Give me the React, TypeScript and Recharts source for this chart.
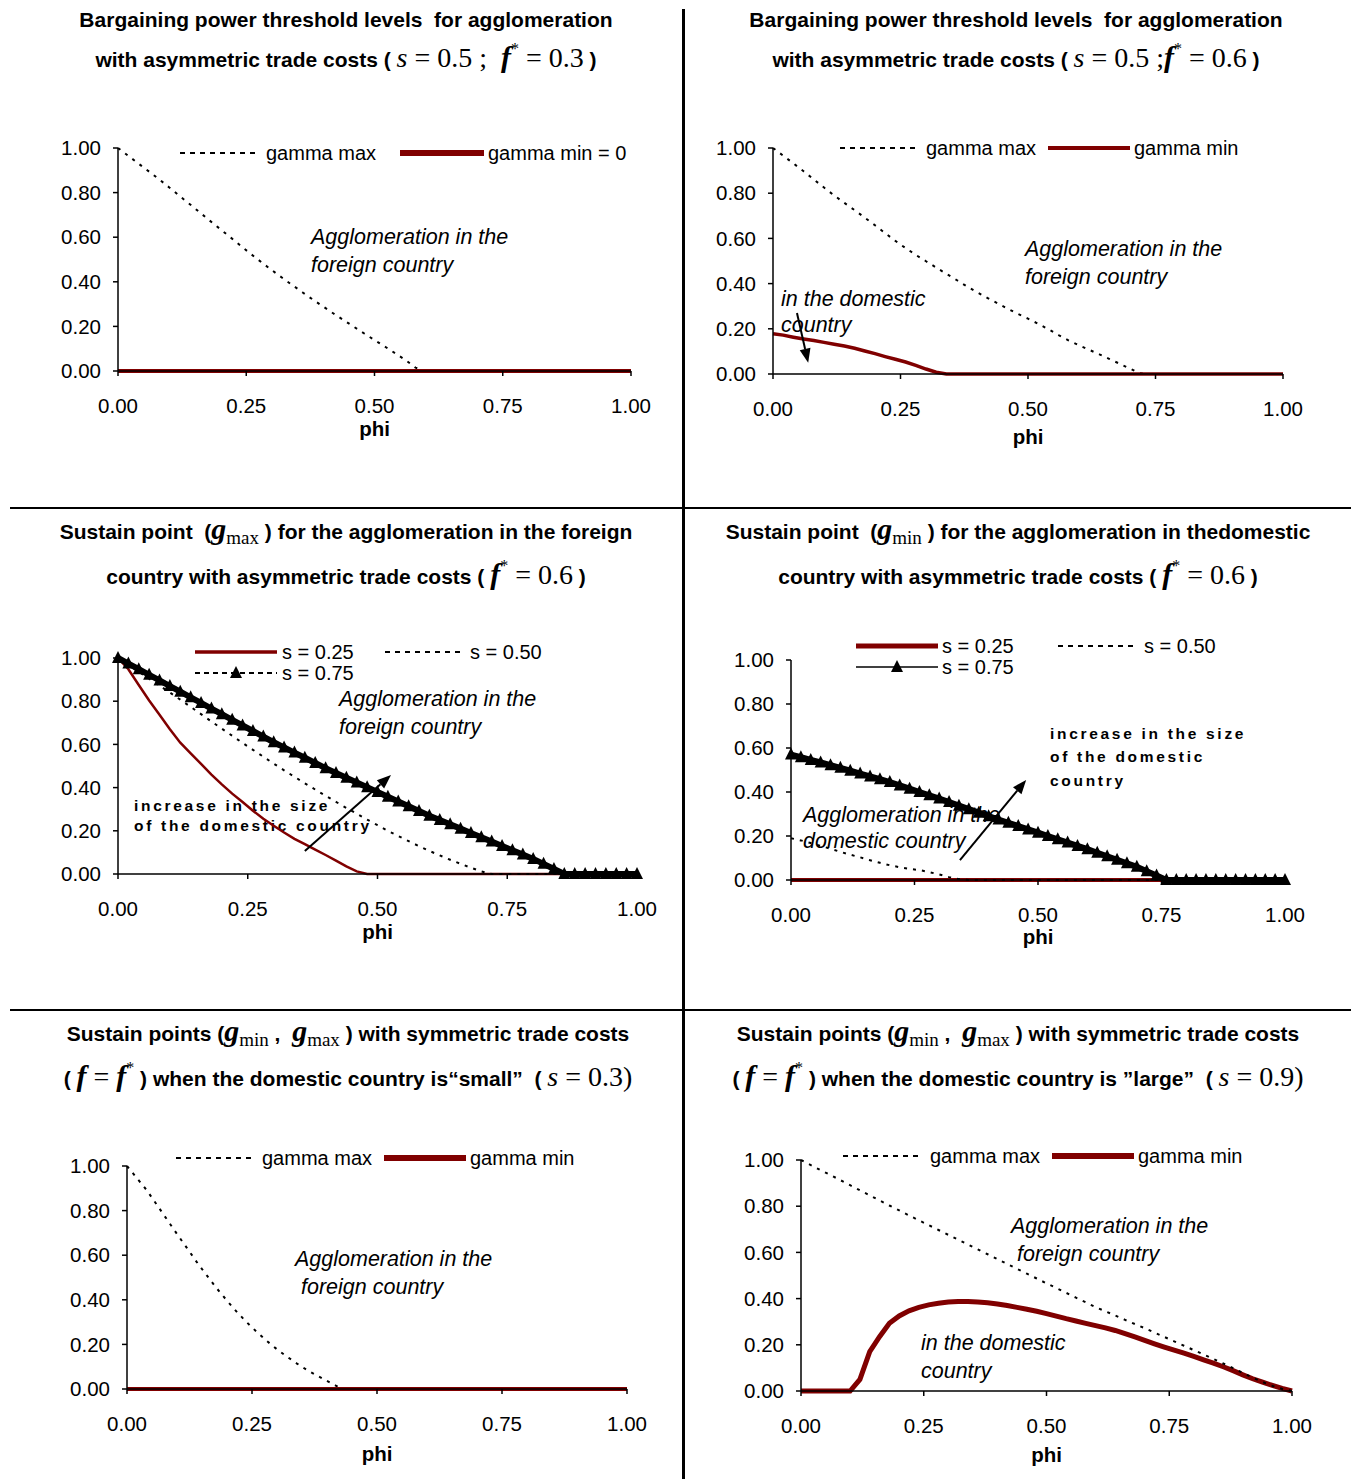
import React from 'react';
import { LineChart, Line, XAxis, YAxis, ReferenceLine } from 'recharts';

// shared x values (phi) and axis ticks
const PHI = [
  0, 0.02, 0.04, 0.06, 0.08, 0.1, 0.12, 0.14, 0.16, 0.18,
  0.2, 0.22, 0.24, 0.26, 0.28, 0.3, 0.32, 0.34, 0.36, 0.38,
  0.4, 0.42, 0.44, 0.46, 0.48, 0.5, 0.52, 0.54, 0.56, 0.58,
  0.6, 0.62, 0.64, 0.66, 0.68, 0.7, 0.72, 0.74, 0.76, 0.78,
  0.8, 0.82, 0.84, 0.86, 0.88, 0.9, 0.92, 0.94, 0.96, 0.98, 1,
];
const X_TICKS = [0, 0.25, 0.5, 0.75, 1];
const Y_TICKS = [0, 0.2, 0.4, 0.6, 0.8, 1];

// top left: s = 0.5, f* = 0.3
const TL_GAMMA_MAX = [
  1.0, 0.965, 0.93, 0.895, 0.86, 0.823, 0.785, 0.748, 0.71, 0.672,
  0.635, 0.598, 0.56, 0.523, 0.487, 0.452, 0.418, 0.385, 0.352, 0.32,
  0.289, 0.258, 0.228, 0.198, 0.168, 0.139, 0.11, 0.08, 0.05, 0.015,
  0, 0, 0, 0, 0, 0, 0, 0, 0, 0,
  0, 0, 0, 0, 0, 0, 0, 0, 0, 0, 0,
];
const TL_GAMMA_MIN = [
  0, 0, 0, 0, 0, 0, 0, 0, 0, 0,
  0, 0, 0, 0, 0, 0, 0, 0, 0, 0,
  0, 0, 0, 0, 0, 0, 0, 0, 0, 0,
  0, 0, 0, 0, 0, 0, 0, 0, 0, 0,
  0, 0, 0, 0, 0, 0, 0, 0, 0, 0, 0,
];

// top right: s = 0.5, f* = 0.6
const TR_GAMMA_MAX = [
  1.0, 0.966, 0.932, 0.897, 0.861, 0.825, 0.79, 0.757, 0.725, 0.692,
  0.658, 0.623, 0.589, 0.557, 0.527, 0.499, 0.471, 0.443, 0.416, 0.388,
  0.362, 0.337, 0.313, 0.289, 0.266, 0.245, 0.222, 0.198, 0.172, 0.148,
  0.127, 0.107, 0.087, 0.066, 0.045, 0.024, 0.003, 0, 0, 0,
  0, 0, 0, 0, 0, 0, 0, 0, 0, 0, 0,
];
const TR_GAMMA_MIN = [
  0.178, 0.172, 0.163, 0.155, 0.148, 0.14, 0.132, 0.124, 0.114, 0.102,
  0.09, 0.077, 0.065, 0.053, 0.038, 0.022, 0.008, 0, 0, 0,
  0, 0, 0, 0, 0, 0, 0, 0, 0, 0,
  0, 0, 0, 0, 0, 0, 0, 0, 0, 0,
  0, 0, 0, 0, 0, 0, 0, 0, 0, 0, 0,
];

// middle left: gamma max, f* = 0.6
const ML_S25 = [
  1.0, 0.948, 0.875, 0.803, 0.737, 0.67, 0.608, 0.558, 0.51, 0.46,
  0.415, 0.372, 0.333, 0.293, 0.256, 0.223, 0.192, 0.163, 0.138, 0.113,
  0.088, 0.062, 0.035, 0.012, 0, 0, 0, 0, 0, 0,
  0, 0, 0, 0, 0, 0, 0, 0, 0, 0,
  0, 0, 0, 0, 0, 0, 0, 0, 0, 0, 0,
];
const ML_S50 = [
  1.0, 0.968, 0.936, 0.904, 0.872, 0.84, 0.807, 0.774, 0.74, 0.706,
  0.673, 0.64, 0.607, 0.575, 0.543, 0.511, 0.48, 0.45, 0.42, 0.391,
  0.362, 0.334, 0.306, 0.279, 0.252, 0.226, 0.2, 0.176, 0.152, 0.129,
  0.107, 0.086, 0.066, 0.047, 0.029, 0.012, 0, 0, 0, 0,
  0, 0, 0, 0, 0, 0, 0, 0, 0, 0, 0,
];
const ML_S75 = [
  1.0, 0.974, 0.948, 0.922, 0.896, 0.87, 0.844, 0.818, 0.792, 0.766,
  0.74, 0.714, 0.688, 0.662, 0.636, 0.61, 0.586, 0.562, 0.538, 0.514,
  0.49, 0.468, 0.446, 0.424, 0.402, 0.38, 0.358, 0.336, 0.314, 0.292,
  0.27, 0.25, 0.23, 0.21, 0.19, 0.17, 0.15, 0.13, 0.11, 0.09,
  0.07, 0.047, 0.023, 0, 0, 0, 0, 0, 0, 0, 0,
];

// middle right: gamma min, f* = 0.6
const MR_S25 = [
  0, 0, 0, 0, 0, 0, 0, 0, 0, 0,
  0, 0, 0, 0, 0, 0, 0, 0, 0, 0,
  0, 0, 0, 0, 0, 0, 0, 0, 0, 0,
  0, 0, 0, 0, 0, 0, 0, 0, 0, 0,
  0, 0, 0, 0, 0, 0, 0, 0, 0, 0, 0,
];
const MR_S50 = [
  0.19, 0.18, 0.168, 0.155, 0.142, 0.128, 0.115, 0.103, 0.09, 0.078,
  0.067, 0.058, 0.051, 0.045, 0.036, 0.025, 0.013, 0.004, 0, 0,
  0, 0, 0, 0, 0, 0, 0, 0, 0, 0,
  0, 0, 0, 0, 0, 0, 0, 0, 0, 0,
  0, 0, 0, 0, 0, 0, 0, 0, 0, 0, 0,
];
const MR_S75 = [
  0.57, 0.558, 0.546, 0.534, 0.522, 0.51, 0.497, 0.484, 0.471, 0.458,
  0.445, 0.43, 0.415, 0.4, 0.385, 0.37, 0.354, 0.338, 0.322, 0.306,
  0.29, 0.275, 0.26, 0.245, 0.23, 0.215, 0.2, 0.185, 0.17, 0.155,
  0.14, 0.124, 0.108, 0.092, 0.076, 0.06, 0.04, 0.02, 0, 0,
  0, 0, 0, 0, 0, 0, 0, 0, 0, 0, 0,
];

// bottom left: symmetric, s = 0.3
const BL_GAMMA_MAX = [
  1.0, 0.945, 0.89, 0.825, 0.76, 0.695, 0.632, 0.568, 0.508, 0.45,
  0.396, 0.345, 0.298, 0.255, 0.215, 0.178, 0.145, 0.114, 0.085, 0.06,
  0.036, 0.012, 0, 0, 0, 0, 0, 0, 0, 0,
  0, 0, 0, 0, 0, 0, 0, 0, 0, 0,
  0, 0, 0, 0, 0, 0, 0, 0, 0, 0, 0,
];
const BL_GAMMA_MIN = [
  0, 0, 0, 0, 0, 0, 0, 0, 0, 0,
  0, 0, 0, 0, 0, 0, 0, 0, 0, 0,
  0, 0, 0, 0, 0, 0, 0, 0, 0, 0,
  0, 0, 0, 0, 0, 0, 0, 0, 0, 0,
  0, 0, 0, 0, 0, 0, 0, 0, 0, 0, 0,
];

// bottom right: symmetric, s = 0.9
const BR_GAMMA_MAX = [
  1.0, 0.978, 0.956, 0.935, 0.913, 0.891, 0.869, 0.847, 0.825, 0.803,
  0.782, 0.76, 0.739, 0.718, 0.697, 0.676, 0.655, 0.634, 0.613, 0.592,
  0.571, 0.55, 0.529, 0.508, 0.487, 0.466, 0.446, 0.425, 0.404, 0.384,
  0.363, 0.345, 0.327, 0.308, 0.29, 0.272, 0.253, 0.234, 0.215, 0.196,
  0.177, 0.158, 0.139, 0.119, 0.099, 0.078, 0.058, 0.039, 0.022, 0.009, 0,
];
const BR_GAMMA_MIN = [
  0, 0, 0, 0, 0, 0, 0.05, 0.17, 0.235, 0.293,
  0.325, 0.347, 0.362, 0.373, 0.38, 0.385, 0.387, 0.387, 0.385, 0.382,
  0.377, 0.37, 0.362, 0.354, 0.345, 0.335, 0.324, 0.313, 0.303, 0.293,
  0.283, 0.273, 0.262, 0.248, 0.234, 0.219, 0.204, 0.19, 0.177, 0.164,
  0.15, 0.135, 0.121, 0.105, 0.088, 0.07, 0.053, 0.038, 0.024, 0.011, 0,
];

const SANS = '"Liberation Sans", Arial, sans-serif';
const SERIF = '"Liberation Serif", "Times New Roman", serif';
const RED = '#800000';
const AXW = 80; // y axis width
const MT = 15;
const MR = 40;
const XAH = 90; // x axis height

type Kind = 'dot' | 'red' | 'triDash' | 'triSolid';
type Series = { key: string; values: number[]; kind: Kind; width?: number };
type LegendItem = { label: string; kind: Kind; width?: number; x: number; y: number; len: number; gap: number };
type Note = { text: string; x: number; y: number; spaced?: boolean };
type Arrow = { x1: number; y1: number; x2: number; y2: number };

const strokeOf = (kind: Kind, width = 3, legend = false) => {
  if (kind === 'dot') return { stroke: '#000', strokeWidth: 2, strokeDasharray: legend ? '5 5' : '3 6' };
  if (kind === 'red') return { stroke: RED, strokeWidth: width };
  if (!legend) return { stroke: '#000', strokeWidth: 6 };
  if (kind === 'triDash') return { stroke: '#000', strokeWidth: 2, strokeDasharray: '5 4' };
  return { stroke: '#000', strokeWidth: 1.5 };
};

const TriDot = (p: any) => {
  const { cx, cy, index } = p;
  if (cx == null || cy == null) return <g key={index} />;
  return <polygon key={index} points={`${cx},${cy - 7} ${cx - 6},${cy + 5} ${cx + 6},${cy + 5}`} fill="#000" />;
};

const ArrowShape = (p: any) => {
  const { x1, y1, x2, y2 } = p;
  const a = Math.atan2(y2 - y1, x2 - x1);
  const L = 14;
  const W = 5.5;
  const bx = x2 - L * Math.cos(a);
  const by = y2 - L * Math.sin(a);
  const px = -Math.sin(a) * W;
  const py = Math.cos(a) * W;
  return (
    <g>
      <line x1={x1} y1={y1} x2={bx} y2={by} stroke="#000" strokeWidth={2} />
      <polygon points={`${x2},${y2} ${bx + px},${by + py} ${bx - px},${by - py}`} fill="#000" />
    </g>
  );
};

const F = ({ star = true }: { star?: boolean }) => (
  <span style={{ fontFamily: SERIF, fontStyle: 'italic', fontWeight: 'bold', fontSize: 30 }}>
    f
    {star && <span style={{ fontSize: 16, fontStyle: 'normal', fontWeight: 'normal', position: 'relative', top: -13 }}>*</span>}
  </span>
);
const M = ({ children }: { children: React.ReactNode }) => (
  <span style={{ fontFamily: SERIF, fontWeight: 'normal', fontSize: 28 }}>{children}</span>
);
const I = ({ children }: { children: React.ReactNode }) => (
  <span style={{ fontFamily: SERIF, fontWeight: 'normal', fontStyle: 'italic', fontSize: 28 }}>{children}</span>
);
const G = ({ sub }: { sub: string }) => (
  <span style={{ fontFamily: SERIF }}>
    <span style={{ fontStyle: 'italic', fontWeight: 'bold', fontSize: 30 }}>g</span>
    <span style={{ fontWeight: 'normal', fontSize: 19, position: 'relative', top: 5 }}>{sub}</span>
  </span>
);

type Panel = {
  id: string;
  plot: { x: number; y: number; w: number; h: number };
  phiOffset: number;
  titleX: number;
  titleY: [number, number];
  title: [React.ReactNode, React.ReactNode];
  series: Series[];
  legend: LegendItem[];
  notes: Note[];
  arrows: Arrow[];
};

const PANELS: Panel[] = [
  {
    id: 'tl',
    plot: { x: 118, y: 148, w: 513, h: 223 },
    phiOffset: 50,
    titleX: 346,
    titleY: [20, 57],
    title: [
      <>Bargaining power threshold levels&nbsp; for agglomeration</>,
      <>with asymmetric trade costs ( <I>s</I><M> = 0.5 ;&nbsp; </M><F /><M> = 0.3</M> )</>,
    ],
    series: [
      { key: 'gmax', values: TL_GAMMA_MAX, kind: 'dot' },
      { key: 'gmin', values: TL_GAMMA_MIN, kind: 'red', width: 4 },
    ],
    legend: [
      { label: 'gamma max', kind: 'dot', x: 180, y: 153, len: 78, gap: 8 },
      { label: 'gamma min = 0', kind: 'red', width: 6, x: 400, y: 153, len: 84, gap: 4 },
    ],
    notes: [
      { text: 'Agglomeration in the', x: 311, y: 237 },
      { text: 'foreign country', x: 311, y: 265 },
    ],
    arrows: [],
  },
  {
    id: 'tr',
    plot: { x: 773, y: 148, w: 510, h: 226 },
    phiOffset: 55,
    titleX: 1016,
    titleY: [20, 57],
    title: [
      <>Bargaining power threshold levels&nbsp; for agglomeration</>,
      <>with asymmetric trade costs ( <I>s</I><M> = 0.5 ;</M><F /><M> = 0.6</M> )</>,
    ],
    series: [
      { key: 'gmax', values: TR_GAMMA_MAX, kind: 'dot' },
      { key: 'gmin', values: TR_GAMMA_MIN, kind: 'red', width: 3.5 },
    ],
    legend: [
      { label: 'gamma max', kind: 'dot', x: 840, y: 148, len: 78, gap: 8 },
      { label: 'gamma min', kind: 'red', width: 4, x: 1048, y: 148, len: 82, gap: 4 },
    ],
    notes: [
      { text: 'Agglomeration in the', x: 1025, y: 249 },
      { text: 'foreign country', x: 1025, y: 277 },
      { text: 'in the domestic', x: 781, y: 299 },
      { text: 'country', x: 781, y: 325 },
    ],
    arrows: [{ x1: 0.047, y1: 0.27, x2: 0.069, y2: 0.05 }],
  },
  {
    id: 'ml',
    plot: { x: 118, y: 658, w: 519, h: 216 },
    phiOffset: 50,
    titleX: 346,
    titleY: [529, 574],
    title: [
      <>Sustain point&nbsp; (<G sub="max" /> ) for the agglomeration in the foreign</>,
      <>country with asymmetric trade costs ( <F /><M> = 0.6</M> )</>,
    ],
    series: [
      { key: 's25', values: ML_S25, kind: 'red', width: 2.5 },
      { key: 's50', values: ML_S50, kind: 'dot' },
      { key: 's75', values: ML_S75, kind: 'triDash' },
    ],
    legend: [
      { label: 's = 0.25', kind: 'red', width: 3.5, x: 195, y: 652, len: 82, gap: 5 },
      { label: 's = 0.50', kind: 'dot', x: 385, y: 652, len: 78, gap: 7 },
      { label: 's = 0.75', kind: 'triDash', x: 195, y: 673, len: 82, gap: 5 },
    ],
    notes: [
      { text: 'Agglomeration in the', x: 339, y: 699 },
      { text: 'foreign country', x: 339, y: 727 },
      { text: 'increase in the size', x: 134, y: 806, spaced: true },
      { text: 'of the domestic country', x: 134, y: 826, spaced: true },
    ],
    arrows: [{ x1: 0.36, y1: 0.106, x2: 0.526, y2: 0.458 }],
  },
  {
    id: 'mr',
    plot: { x: 791, y: 660, w: 494, h: 220 },
    phiOffset: 49,
    titleX: 1018,
    titleY: [529, 574],
    title: [
      <>Sustain point&nbsp; (<G sub="min" /> ) for the agglomeration in thedomestic</>,
      <>country with asymmetric trade costs ( <F /><M> = 0.6</M> )</>,
    ],
    series: [
      { key: 's25', values: MR_S25, kind: 'red', width: 4 },
      { key: 's50', values: MR_S50, kind: 'dot' },
      { key: 's75', values: MR_S75, kind: 'triSolid' },
    ],
    legend: [
      { label: 's = 0.25', kind: 'red', width: 5, x: 856, y: 646, len: 82, gap: 4 },
      { label: 's = 0.50', kind: 'dot', x: 1058, y: 646, len: 78, gap: 8 },
      { label: 's = 0.75', kind: 'triSolid', x: 856, y: 667, len: 82, gap: 4 },
    ],
    notes: [
      { text: 'Agglomeration in the', x: 803, y: 815 },
      { text: 'domestic country', x: 803, y: 841 },
      { text: 'increase in the size', x: 1050, y: 734, spaced: true },
      { text: 'of the domestic', x: 1050, y: 757, spaced: true },
      { text: 'country', x: 1050, y: 781, spaced: true },
    ],
    arrows: [{ x1: 0.342, y1: 0.09, x2: 0.476, y2: 0.455 }],
  },
  {
    id: 'bl',
    plot: { x: 127, y: 1166, w: 500, h: 223 },
    phiOffset: 57,
    titleX: 348,
    titleY: [1031, 1076],
    title: [
      <>Sustain points (<G sub="min" /> ,&nbsp; <G sub="max" /> ) with symmetric trade costs</>,
      <>( <F star={false} /><M> = </M><F /> ) when the domestic country is“small”&nbsp; ( <I>s</I><M> = 0.3)</M></>,
    ],
    series: [
      { key: 'gmax', values: BL_GAMMA_MAX, kind: 'dot' },
      { key: 'gmin', values: BL_GAMMA_MIN, kind: 'red', width: 4 },
    ],
    legend: [
      { label: 'gamma max', kind: 'dot', x: 176, y: 1158, len: 78, gap: 8 },
      { label: 'gamma min', kind: 'red', width: 6, x: 384, y: 1158, len: 82, gap: 4 },
    ],
    notes: [
      { text: 'Agglomeration in the', x: 295, y: 1259 },
      { text: 'foreign country', x: 301, y: 1287 },
    ],
    arrows: [],
  },
  {
    id: 'br',
    plot: { x: 801, y: 1160, w: 491, h: 231 },
    phiOffset: 56,
    titleX: 1018,
    titleY: [1031, 1076],
    title: [
      <>Sustain points (<G sub="min" /> ,&nbsp; <G sub="max" /> ) with symmetric trade costs</>,
      <>( <F star={false} /><M> = </M><F /> ) when the domestic country is ”large”&nbsp; ( <I>s</I><M> = 0.9)</M></>,
    ],
    series: [
      { key: 'gmin', values: BR_GAMMA_MIN, kind: 'red', width: 5 },
      { key: 'gmax', values: BR_GAMMA_MAX, kind: 'dot' },
    ],
    legend: [
      { label: 'gamma max', kind: 'dot', x: 843, y: 1156, len: 78, gap: 9 },
      { label: 'gamma min', kind: 'red', width: 6, x: 1052, y: 1156, len: 82, gap: 4 },
    ],
    notes: [
      { text: 'Agglomeration in the', x: 1011, y: 1226 },
      { text: 'foreign country', x: 1017, y: 1254 },
      { text: 'in the domestic', x: 921, y: 1343 },
      { text: 'country', x: 921, y: 1371 },
    ],
    arrows: [],
  },
];

const TitleLine = ({ cx, cy, children }: { cx: number; cy: number; children: React.ReactNode }) => (
  <div
    style={{
      position: 'absolute', left: cx - 400, top: cy - 17, width: 800, height: 34, lineHeight: '34px',
      textAlign: 'center', fontFamily: SANS, fontWeight: 'bold', fontSize: 21, whiteSpace: 'nowrap',
    }}
  >
    {children}
  </div>
);

const LegendEntry = ({ item }: { item: LegendItem }) => {
  const tri = item.kind === 'triDash' || item.kind === 'triSolid';
  return (
    <div style={{ position: 'absolute', left: item.x, top: item.y - 12, height: 24, whiteSpace: 'nowrap' }}>
      <svg width={item.len} height={24} style={{ position: 'absolute', left: 0, top: 0 }}>
        <line x1={0} y1={12} x2={item.len} y2={12} strokeLinecap={item.kind === 'red' ? 'round' : 'butt'} {...strokeOf(item.kind, item.width, true)} />
        {tri && <TriDot cx={item.len / 2} cy={12} index={0} />}
      </svg>
      <span style={{ position: 'absolute', left: item.len + item.gap, top: 0, lineHeight: '24px', fontSize: 20, fontFamily: SANS, color: '#000' }}>
        {item.label}
      </span>
    </div>
  );
};

const NoteText = ({ note }: { note: Note }) => (
  <div
    style={{
      position: 'absolute', left: note.x, top: note.y - 13, height: 26, lineHeight: '26px', whiteSpace: 'nowrap',
      fontFamily: SANS, color: '#000',
      ...(note.spaced
        ? { fontWeight: 'bold', fontSize: 15.5, letterSpacing: 2.7 }
        : { fontStyle: 'italic', fontSize: 21.5 }),
    }}
  >
    {note.text}
  </div>
);

const ChartPanel = ({ p }: { p: Panel }) => {
  const rows = PHI.map((phi, i) => {
    const r: Record<string, number> = { phi };
    p.series.forEach((s) => { r[s.key] = s.values[i]; });
    return r;
  });
  const tickStyle = { fill: '#000', fontSize: 20.5, fontFamily: SANS };
  return (
    <>
      <TitleLine cx={p.titleX} cy={p.titleY[0]}>{p.title[0]}</TitleLine>
      <TitleLine cx={p.titleX} cy={p.titleY[1]}>{p.title[1]}</TitleLine>
      {p.notes.map((n, i) => <NoteText key={i} note={n} />)}
      <div style={{ position: 'absolute', left: p.plot.x - AXW, top: p.plot.y - MT }}>
        <LineChart
          width={AXW + p.plot.w + MR}
          height={MT + p.plot.h + XAH}
          data={rows}
          margin={{ top: MT, right: MR, bottom: 0, left: 0 }}
        >
          <XAxis
            type="number"
            dataKey="phi"
            domain={[0, 1]}
            ticks={X_TICKS}
            interval={0}
            height={XAH}
            tickSize={5}
            tickMargin={22}
            tick={tickStyle}
            tickFormatter={(v: number) => v.toFixed(2)}
            axisLine={{ stroke: '#000', strokeWidth: 1.5 }}
            tickLine={{ stroke: '#000', strokeWidth: 1.5 }}
            label={{ value: 'phi', position: 'insideTop', offset: p.phiOffset, fill: '#000', fontSize: 20.5, fontWeight: 'bold', fontFamily: SANS }}
          />
          <YAxis
            type="number"
            domain={[0, 1]}
            ticks={Y_TICKS}
            interval={0}
            width={AXW}
            tickSize={5}
            tickMargin={12}
            tick={tickStyle}
            tickFormatter={(v: number) => v.toFixed(2)}
            axisLine={{ stroke: '#000', strokeWidth: 1.5 }}
            tickLine={{ stroke: '#000', strokeWidth: 1.5 }}
          />
          {p.series.map((s) => (
            <Line
              key={s.key}
              dataKey={s.key}
              type="linear"
              {...strokeOf(s.kind, s.width)}
              dot={s.kind === 'triDash' || s.kind === 'triSolid' ? TriDot : false}
              activeDot={false}
              isAnimationActive={false}
            />
          ))}
          {p.arrows.map((a, i) => (
            <ReferenceLine
              key={i}
              segment={[{ x: a.x1, y: a.y1 }, { x: a.x2, y: a.y2 }]}
              shape={ArrowShape}
              stroke="#000"
            />
          ))}
        </LineChart>
      </div>
      {p.legend.map((l, i) => <LegendEntry key={i} item={l} />)}
    </>
  );
};

export default function App() {
  return (
    <div style={{ position: 'absolute', left: 0, top: 0, width: 1361, height: 1479, background: '#fff', overflow: 'hidden' }}>
      <div style={{ position: 'absolute', left: 682, top: 9, width: 3, height: 1470, background: '#000' }} />
      <div style={{ position: 'absolute', left: 10, top: 507, width: 1341, height: 2, background: '#000' }} />
      <div style={{ position: 'absolute', left: 10, top: 1009, width: 1341, height: 2, background: '#000' }} />
      {PANELS.map((p) => <ChartPanel key={p.id} p={p} />)}
    </div>
  );
}
